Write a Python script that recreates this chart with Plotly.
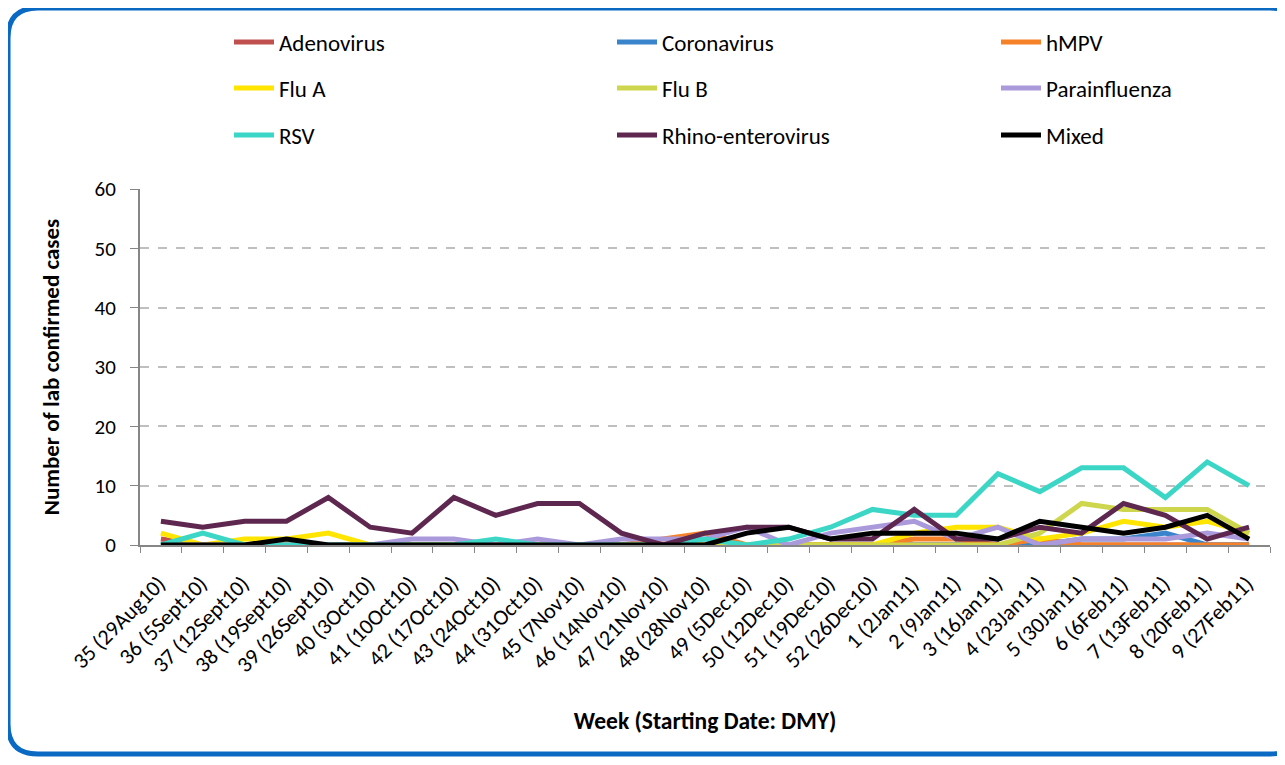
"""Weekly lab confirmed respiratory virus cases, week 35 2010 to week 9 2011."""

import plotly.graph_objects as go

WEEKS = [
    "35 (29Aug10)", "36 (5Sept10)", "37 (12Sept10)", "38 (19Sept10)", "39 (26Sept10)",
    "40 (3Oct10)", "41 (10Oct10)", "42 (17Oct10)", "43 (24Oct10)", "44 (31Oct10)",
    "45 (7Nov10)", "46 (14Nov10)", "47 (21Nov10)", "48 (28Nov10)", "49 (5Dec10)",
    "50 (12Dec10)", "51 (19Dec10)", "52 (26Dec10)", "1 (2Jan11)", "2 (9Jan11)",
    "3 (16Jan11)", "4 (23Jan11)", "5 (30Jan11)", "6 (6Feb11)", "7 (13Feb11)",
    "8 (20Feb11)", "9 (27Feb11)",
]

ADENOVIRUS = [1, 0, 0, 0, 0, 0, 0, 0, 0, 0, 0, 0, 0, 0, 0, 0, 0, 0, 0, 0, 0, 0, 0, 0, 0, 0, 0]
CORONAVIRUS = [0, 0, 0, 0, 0, 0, 0, 0, 0, 0, 0, 0, 0, 0, 0, 0, 0, 0, 0, 0, 0, 0, 1, 1, 2, 0, 0]
HMPV = [0, 0, 0, 0, 0, 0, 0, 0, 0, 0, 0, 0, 1, 2, 0, 0, 0, 0, 1, 1, 0, 1, 0, 0, 0, 0, 0]
FLU_A = [2, 0, 1, 1, 2, 0, 0, 0, 0, 0, 0, 0, 0, 0, 0, 0, 0, 0, 2, 3, 3, 1, 2, 4, 3, 4, 2]
FLU_B = [0, 0, 0, 0, 0, 0, 0, 0, 0, 0, 0, 0, 0, 0, 0, 0, 0, 0, 0, 0, 0, 2, 7, 6, 6, 6, 2]
PARAINFLUENZA = [0, 0, 0, 0, 0, 0, 1, 1, 0, 1, 0, 1, 1, 1, 3, 0, 2, 3, 4, 1, 3, 0, 1, 1, 1, 2, 1]
RSV = [0, 2, 0, 0, 0, 0, 0, 0, 1, 0, 0, 0, 0, 1, 0, 1, 3, 6, 5, 5, 12, 9, 13, 13, 8, 14, 10]
RHINO = [4, 3, 4, 4, 8, 3, 2, 8, 5, 7, 7, 2, 0, 2, 3, 3, 1, 1, 6, 1, 1, 3, 2, 7, 5, 1, 3]
MIXED = [0, 0, 0, 1, 0, 0, 0, 0, 0, 0, 0, 0, 0, 0, 2, 3, 1, 2, 2, 2, 1, 4, 3, 2, 3, 5, 1]

SERIES = [
    ("Adenovirus", ADENOVIRUS, "#C0504D"),
    ("Coronavirus", CORONAVIRUS, "#3A84CC"),
    ("hMPV", HMPV, "#F58229"),
    ("Flu A", FLU_A, "#FFE500"),
    ("Flu B", FLU_B, "#CDD64D"),
    ("Parainfluenza", PARAINFLUENZA, "#AB9ADB"),
    ("RSV", RSV, "#3CD6C6"),
    ("Rhino-enterovirus", RHINO, "#5E2750"),
    ("Mixed", MIXED, "#000000"),
]

_FONT = "Carlito, Calibri, Lato, sans-serif"
# page body adds an 8px margin; the figure sits at (8, 8)
_OFF = 8
_W, _H = 1285 - 2 * _OFF, 765 - 2 * _OFF
# plot area in screen pixels
_X0, _X1, _Y0, _Y1 = 140, 1270, 189, 545
_L, _R = _X0 - _OFF, _W - (_X1 - _OFF)
_T, _B = _Y0 - _OFF, _H - (_Y1 - _OFF)
_PW, _PH = _X1 - _X0, _Y1 - _Y0

# legend grid (screen pixels: each column's legend start and each row's centre)
_LEG_COLS = [229, 612, 996]
_LEG_ROWS = [42, 88, 135]


def _px(x, y):
    """Screen pixel position -> paper coords (for decoration only)."""
    return (x - _X0) / _PW, (_Y1 - y) / _PH


def _rounded_box(x0, y0, x1, y1, r):
    pts = [
        ("M", [(x0 + r, y0)]), ("L", [(x1 - r, y0)]), ("Q", [(x1, y0), (x1, y0 + r)]),
        ("L", [(x1, y1 - r)]), ("Q", [(x1, y1), (x1 - r, y1)]), ("L", [(x0 + r, y1)]),
        ("Q", [(x0, y1), (x0, y1 - r)]), ("L", [(x0, y0 + r)]), ("Q", [(x0, y0), (x0 + r, y0)]),
    ]
    out = []
    for cmd, coords in pts:
        out.append(cmd + " ".join(f"{px:.4f},{py:.4f}" for px, py in (_px(*c) for c in coords)))
    return " ".join(out) + " Z"


fig = go.Figure()
legends = {}
for i, (name, values, color) in enumerate(SERIES):
    key = "legend" if i == 0 else f"legend{i + 1}"
    fig.add_trace(
        go.Scatter(
            x=WEEKS,
            y=values,
            name=name,
            mode="lines",
            line=dict(color=color, width=5),
            legend=key,
        )
    )
    lx, ly = _px(_LEG_COLS[i % 3], _LEG_ROWS[i // 3])
    legends[key] = dict(
        x=lx,
        y=ly,
        xanchor="left",
        yanchor="middle",
        orientation="h",
        itemwidth=40,
        font=dict(family=_FONT, size=23, color="#000000"),
        bgcolor="rgba(0,0,0,0)",
    )
fig.update_layout(**legends)

fig.update_layout(
    width=_W,
    height=_H,
    paper_bgcolor="white",
    plot_bgcolor="white",
    font=dict(family=_FONT, size=17, color="#000000"),
    margin=dict(l=_L, r=_R, t=_T, b=_B, autoexpand=False),
    showlegend=True,
    xaxis=dict(
        type="category",
        range=[-0.5, len(WEEKS) - 0.5],
        tickangle=-45,
        ticks="outside",
        tickson="boundaries",
        ticklen=6,
        tickcolor="#868686",
        showline=True,
        linecolor="#868686",
        linewidth=2,
        showgrid=False,
        tickfont=dict(size=22),
        ticklabelshift=-2,
        ticklabelstandoff=15,
        title=dict(text="<b>Week (Starting Date: DMY)</b>", font=dict(size=23.5), standoff=36),
    ),
    yaxis=dict(
        range=[0, 60],
        dtick=10,
        ticks="outside",
        ticklen=8,
        tickcolor="#868686",
        showline=True,
        linecolor="#868686",
        linewidth=2,
        gridcolor="#BFBFBF",
        griddash="dash",
        gridwidth=1.5,
        zeroline=False,
        tickfont=dict(size=21),
        ticklabelstandoff=10,
        title=dict(text="<b>Number of lab confirmed cases</b>", font=dict(size=23), standoff=28),
    ),
    shapes=[
        dict(
            type="path",
            xref="paper",
            yref="paper",
            path=_rounded_box(8, 8, 1300, 754, 30),
            line=dict(color="#0A69C2", width=5),
            layer="below",
        )
    ],
)

fig.write_html("out.html")
